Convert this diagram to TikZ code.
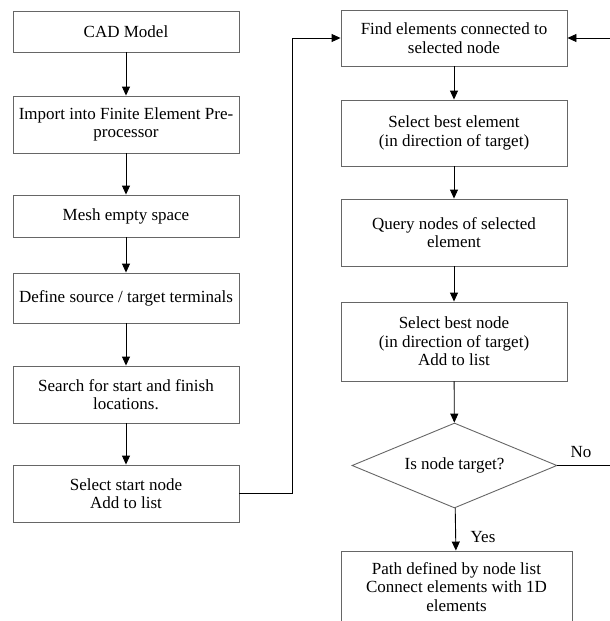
\documentclass[tikz,border=0pt]{standalone}
\usepackage{fontspec}
\setmainfont{Liberation Serif}
\usepackage{tikz}
\usetikzlibrary{arrows.meta,positioning,shapes.geometric}

\begin{document}
\begin{tikzpicture}[
    x=1pt, y=-1pt,
    box/.style={rectangle, draw=black!60, line width=0.9pt, minimum width=226pt, align=center, inner sep=2pt, font=\fontsize{17}{18.5}\selectfont},
    decision/.style={diamond, draw=black!60, line width=0.9pt, minimum width=205pt, minimum height=85pt, aspect=2.4, inner sep=0pt, font=\fontsize{17}{18.5}\selectfont},
    flow/.style={draw=black, line width=0.9pt, -{Triangle[length=9pt,width=8pt]}},
    tag/.style={font=\fontsize{17}{18.5}\selectfont}
]
\clip (0,0) rectangle (610,621);

% Left column
\node[box, minimum height=41pt] (cad) at (126,31.5) {CAD Model};
\node[box, minimum height=57pt] (import) at (126,124.5) {Import into Finite Element Pre-\\processor};
\node[box, minimum height=42pt] (mesh) at (126,216) {Mesh empty space};
\node[box, minimum height=50pt] (define) at (126,298) {Define source / target terminals};
\node[box, minimum height=57pt] (search) at (126,394.5) {Search for start and finish\\locations.};
\node[box, minimum height=57pt] (start) at (126,493.5) {Select start node\\Add to list};

% Right column
\node[box, minimum height=56pt] (find) at (454,38) {Find elements connected to\\selected node};
\node[box, minimum height=66pt] (elem) at (454,133) {Select best element\\(in direction of target)};
\node[box, minimum height=67pt] (query) at (454,232.5) {Query nodes of selected\\element};
\node[box, minimum height=79pt] (best) at (454,341.5) {Select best node\\(in direction of target)\\Add to list};
\node[decision] (target) at (454.5,465.5) {Is node target?};
\node[box, minimum width=231pt, minimum height=72pt] (path) at (456.5,587) {Path defined by node list\\Connect elements with 1D\\elements};

% Labels
\node[tag] (no) at (581,452) {No};
\node[tag] (yes) at (483,537) {Yes};

% Loop corners
\coordinate (loopL) at (292,0);
\coordinate (loopR) at (625,0);

% Connectors
\draw[flow] (cad) -- (import);
\draw[flow] (import) -- (mesh);
\draw[flow] (mesh) -- (define);
\draw[flow] (define) -- (search);
\draw[flow] (search) -- (start);
\draw[flow] (start.east) -- (start.east -| loopL) |- (find.west);
\draw[flow] (find) -- (elem);
\draw[flow] (elem) -- (query);
\draw[flow] (query) -- (best);
\draw[flow] (best) -- (target);
\draw[flow] (target) -- (path);
\draw[flow] (target.east) -- (target.east -| loopR) |- (find.east);

\end{tikzpicture}
\end{document}
